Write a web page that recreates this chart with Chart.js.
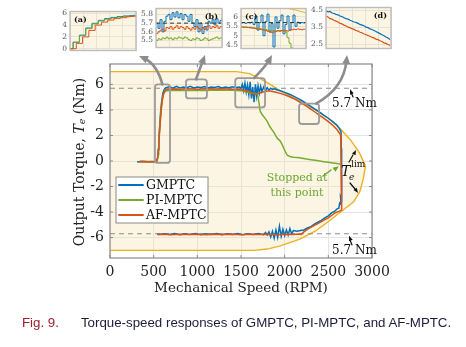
<!DOCTYPE html>
<html><head><meta charset="utf-8">
<script src="https://cdn.jsdelivr.net/npm/chart.js@4.4.0/dist/chart.umd.min.js"></script>
<style>
html,body{margin:0;padding:0;background:#fff;}
#wrap{position:relative;width:466px;height:347px;overflow:hidden;background:#fff;}
#main{position:absolute;left:0;top:0;}
.inset{position:absolute;}
#cap{position:absolute;left:22px;top:315px;font-family:"Liberation Sans",Arial,sans-serif;font-size:13.3px;color:#1c1c3c;white-space:nowrap;}
#cap .fig{color:#a0202a;margin-right:22px;}
</style></head>
<body><div id="wrap">
<canvas id="main" width="466" height="347"></canvas>
<canvas id="ia" class="inset"></canvas>
<canvas id="ib" class="inset"></canvas>
<canvas id="ic" class="inset"></canvas>
<canvas id="id" class="inset"></canvas>
<div id="cap"><span class="fig">Fig. 9.</span>Torque-speed responses of GMPTC, PI-MPTC, and AF-MPTC.</div>
</div>
<script>
// ---------- data (main chart: [speed RPM, torque Nm]) ----------
const speedTicks = [0, 500, 1000, 1500, 2000, 2500, 3000];
const torqueTicks = [-6, -4, -2, 0, 2, 4, 6];
const seriesNames = ['GMPTC', 'PI-MPTC', 'AF-MPTC'];
const ratedTorque = 5.7;

const limitTop = [[0,7],[1450,7],[1600,6.85],[1720,6.45],[1850,5.95],[1950,5.5],[2100,4.95],[2330,4.1],[2500,3.35],[2640,2.5],[2760,1.6],[2860,0.6],[2925,-0.4]];
const limitBottom = [[0,-7],[1650,-7],[1800,-6.9],[1950,-6.65],[2100,-6.3],[2180,-6.1],[2350,-5.5],[2490,-4.8],[2640,-4.0],[2790,-3.2],[2860,-2.4],[2900,-1.4],[2925,-0.4]];

const gmptc = [[310,-0.08],[360,-0.02],[420,-0.06],[480,-0.03],[530,-0.05],[545,0.2],[552,0.9],[560,1.8],[570,2.9],[580,3.9],[592,4.7],[605,5.3],[620,5.6],[640,5.75],
[680,5.82],[720,5.7],[760,5.85],[800,5.72],[840,5.8],[880,5.74],[920,5.86],[960,5.72],[1000,5.8],[1040,5.75],[1080,5.84],[1120,5.73],[1160,5.8],[1200,5.76],[1240,5.83],[1280,5.72],[1320,5.79],[1360,5.74],[1400,5.82],[1440,5.75],[1480,5.8],
[1500,5.7],[1515,6.0],[1530,5.5],[1545,6.1],[1560,5.4],[1575,5.95],[1590,5.2],[1605,6.2],[1620,4.9],[1635,5.8],[1650,4.6],[1665,6.0],[1680,5.1],[1695,5.9],[1710,5.3],[1725,5.85],[1740,5.45],[1760,5.8],[1780,5.5],[1800,5.75],[1820,5.55],[1840,5.7],[1860,5.6],[1880,5.65],[1900,5.6],
[1950,5.5],[2000,5.38],[2050,5.25],[2100,5.08],[2150,4.9],[2200,4.72],[2250,4.5],[2300,4.28],[2350,4.05],[2400,3.82],[2450,3.58],[2500,3.35],[2550,3.08],[2600,2.8],[2630,2.5],[2645,2.3],
[2648,1.0],[2650,-1.0],[2652,-2.5],[2655,-3.0],[2640,-2.8],[2645,-3.4],[2630,-3.3],[2620,-3.7],
[2600,-3.75],[2570,-3.95],[2540,-4.05],[2500,-4.3],[2460,-4.45],[2420,-4.65],[2380,-4.8],[2340,-4.95],[2300,-5.15],[2260,-5.25],[2220,-5.4],[2180,-5.45],[2140,-5.5],[2100,-5.45],[2080,-5.7],[2060,-5.3],[2040,-5.8],[2020,-5.4],[2000,-5.85],[1980,-5.35],[1960,-5.9],[1940,-5.1],[1920,-6.0],[1900,-5.4],[1880,-6.05],[1860,-5.5],[1840,-5.95],[1820,-5.55],[1800,-5.8],[1780,-5.6],[1760,-5.78],
[1700,-5.68],[1640,-5.76],[1580,-5.7],[1520,-5.78],[1460,-5.68],[1400,-5.75],[1340,-5.7],[1280,-5.77],[1220,-5.69],[1160,-5.76],[1100,-5.7],[1040,-5.78],[980,-5.69],[920,-5.75],[860,-5.7],[800,-5.77],[740,-5.68],[680,-5.75],[620,-5.7],[560,-5.76],[540,-5.72]];

const pimptc = [[330,-0.05],[420,-0.03],[500,-0.06],[540,-0.04],[550,0.5],[558,1.4],[567,2.4],[577,3.4],[588,4.3],[600,4.9],[615,5.3],[635,5.48],[680,5.53],[800,5.55],[900,5.52],[1000,5.55],[1100,5.53],[1200,5.56],[1300,5.54],[1400,5.55],[1500,5.5],[1560,5.42],[1600,5.35],[1630,5.28],[1660,5.3],[1690,5.2],[1705,4.6],[1720,3.9],[1745,3.6],[1770,3.4],[1800,3.1],[1830,2.7],[1860,2.4],[1880,2.2],[1900,1.95],[1920,1.75],[1945,1.6],[1970,1.3],[1990,1.0],[2010,0.7],[2030,0.45],[2060,0.35],[2100,0.3],[2150,0.28],[2200,0.22],[2250,0.15],[2300,0.1],[2350,0.05],[2400,0.0],[2450,-0.05],[2500,-0.1],[2550,-0.15],[2600,-0.2],[2640,-0.25]];

const afmptc = [[330,-0.06],[400,-0.03],[470,-0.07],[530,-0.04],[548,0.3],[556,1.0],[565,2.0],[575,3.0],[587,4.0],[600,4.8],[615,5.3],[635,5.55],[660,5.63],[720,5.65],[800,5.62],[900,5.66],[1000,5.63],[1100,5.66],[1200,5.64],[1300,5.66],[1400,5.63],[1500,5.6],[1550,5.52],[1600,5.42],[1640,5.3],[1670,5.22],[1700,5.28],[1740,5.38],[1780,5.45],[1820,5.5],[1860,5.45],[1900,5.38],[1950,5.3],[2000,5.18],[2050,5.05],[2100,4.9],[2150,4.72],[2200,4.5],[2250,4.3],[2300,4.06],[2350,3.82],[2400,3.58],[2450,3.34],[2500,3.08],[2550,2.8],[2600,2.45],[2640,2.05],[2645,1.0],[2648,-1.0],[2651,-3.0],[2653,-3.85],[2620,-3.95],[2580,-4.05],[2540,-4.25],[2500,-4.45],[2460,-4.6],[2420,-4.75],[2380,-4.9],[2340,-5.05],[2300,-5.2],[2260,-5.35],[2220,-5.55],[2190,-5.75],[2160,-5.72],[2100,-5.76],[2000,-5.73],[1900,-5.77],[1800,-5.74],[1700,-5.76],[1600,-5.73],[1500,-5.77],[1400,-5.74],[1300,-5.76],[1200,-5.73],[1100,-5.77],[1000,-5.74],[900,-5.76],[800,-5.73],[700,-5.77],[600,-5.74],[545,-5.75]];

// ---------- inset data (sample-by-sample torque, Nm) ----------
const insetA_ticks = [0, 2, 4, 6];
const insetA_gm = [0,1.1,1.1,2.3,2.3,3.5,3.5,4.3,4.3,4.8,4.8,5.1,5.1,5.3,5.3,5.45,5.45,5.55,5.55,5.6,5.65,5.7];
const insetA_pi = [0,1.1,1.1,2.2,2.2,3.4,3.4,4.2,4.2,4.7,4.7,5.0,5.0,5.2,5.2,5.35,5.35,5.45,5.45,5.5,5.55,5.6];
const insetA_af = [0,0,0.9,0.9,2.0,2.0,3.1,3.1,4.0,4.0,4.5,4.5,4.85,4.85,5.1,5.1,5.25,5.25,5.4,5.45,5.5,5.55];

const insetB_ticks = [5.5, 5.6, 5.7, 5.8];
const insetB_gm = [5.7,5.64,5.74,5.6,5.72,5.78,5.8,5.74,5.82,5.77,5.83,5.76,5.81,5.74,5.8,5.78,5.72,5.8,5.7,5.66,5.74,5.6,5.7,5.58,5.66,5.62,5.72,5.7,5.74,5.68,5.75,5.7,5.73,5.76];
const insetB_pi = [5.5,5.52,5.51,5.53,5.52,5.54,5.52,5.53,5.51,5.53,5.52,5.54,5.53,5.52,5.54,5.53,5.51,5.5,5.52,5.51,5.53,5.52,5.5,5.51,5.53,5.52,5.5,5.51,5.52,5.53,5.54,5.52,5.53,5.52];
const insetB_af = [5.58,5.6,5.62,5.63,5.61,5.65,5.64,5.66,5.63,5.65,5.67,5.64,5.66,5.65,5.63,5.66,5.64,5.62,5.65,5.63,5.66,5.64,5.62,5.65,5.63,5.66,5.67,5.64,5.66,5.65,5.67,5.64,5.66,5.65];

const insetC_ticks = [4.5, 5, 5.5, 6];
const insetC_gm = [5.68,5.7,5.66,5.7,5.68,5.72,5.6,6.05,5.3,5.7,6.1,5.0,5.75,6.15,5.2,5.65,4.4,6.0,5.4,5.8,6.1,5.1,5.6,6.05,5.3,5.7,6.1,5.5,5.72,5.66,5.7,5.68,5.7];
const insetC_pi = [5.47,5.46,5.45,5.44,5.45,5.43,5.42,5.4,5.41,5.38,5.36,5.34,5.33,5.3,5.28,5.26,5.27,5.25,5.27,5.28,5.26,5.24,5.2,4.9,4.6,4.35,4.1];
const insetC_af = [5.47,5.45,5.46,5.44,5.42,5.41,5.4,5.38,5.36,5.34,5.32,5.3,5.27,5.24,5.2,5.18,5.2,5.22,5.26,5.24,5.28,5.3,5.27,5.25,5.28,5.32,5.35,5.33,5.36,5.34,5.32,5.35,5.33];
const insetC_lim = [[44,6.48],[54,6.38],[65,6.22]];

const insetD_ticks = [2.5, 3, 3.5, 4, 4.5];
const insetD_gm = [4.45,4.4,4.42,4.33,4.3,4.25,4.22,4.15,4.12,4.05,4.0,3.97,3.9,3.86,3.8,3.78,3.72,3.66,3.62,3.58,3.5,3.47,3.4,3.36,3.3,3.24,3.18,3.12,3.06,3.0,2.92,2.86,2.78];
const insetD_af = [4.15,4.1,4.0,3.97,3.9,3.85,3.8,3.72,3.69,3.62,3.58,3.5,3.47,3.41,3.37,3.3,3.27,3.2,3.17,3.1,3.07,3.0,2.97,2.9,2.87,2.8,2.77,2.7,2.66,2.58,2.55,2.48,2.43];

// ---------- styling ----------
const C_BLUE = '#0072BD', C_ORANGE = '#D95319', C_GREEN = '#77AC30', C_YEL = '#EDB120';
const SERIF = '"DejaVu Serif", "Liberation Serif", serif';
const FILL = 'rgba(250,226,170,0.33)';
const pts = arr => arr.map(p => ({x: p[0], y: p[1]}));
const seq = (arr, step) => arr.map((v, i) => ({x: i * step, y: v}));
const plain = v => String(v);

function lineDs(label, data, color, width, order, extra) {
  return Object.assign({label, data, borderColor: color, borderWidth: width, pointRadius: 0, showLine: true, fill: false, tension: 0, order}, extra || {});
}

function arrowHead(ctx, tipX, tipY, dx, dy, len, wid, color) {
  const n = Math.hypot(dx, dy); dx /= n; dy /= n;
  const bx = tipX - dx * len, by = tipY - dy * len;
  ctx.beginPath();
  ctx.moveTo(tipX, tipY);
  ctx.lineTo(bx - dy * wid / 2, by + dx * wid / 2);
  ctx.lineTo(bx + dy * wid / 2, by - dx * wid / 2);
  ctx.closePath(); ctx.fillStyle = color; ctx.fill();
}
function curvedArrow(ctx, s, c, e, color, lw, hl, hw) {
  const dx = e[0] - c[0], dy = e[1] - c[1], n = Math.hypot(dx, dy);
  const ex = e[0] - dx / n * hl * 0.6, ey = e[1] - dy / n * hl * 0.6;
  ctx.beginPath(); ctx.moveTo(s[0], s[1]); ctx.quadraticCurveTo(c[0], c[1], ex, ey);
  ctx.strokeStyle = color; ctx.lineWidth = lw; ctx.lineCap = 'round'; ctx.stroke();
  arrowHead(ctx, e[0], e[1], dx, dy, hl, hw, color);
}
function roundRect(ctx, x, y, w, h, r) {
  ctx.beginPath();
  ctx.moveTo(x + r, y); ctx.lineTo(x + w - r, y); ctx.quadraticCurveTo(x + w, y, x + w, y + r);
  ctx.lineTo(x + w, y + h - r); ctx.quadraticCurveTo(x + w, y + h, x + w - r, y + h);
  ctx.lineTo(x + r, y + h); ctx.quadraticCurveTo(x, y + h, x, y + h - r);
  ctx.lineTo(x, y + r); ctx.quadraticCurveTo(x, y, x + r, y); ctx.closePath();
}

const mainAnnot = {
  id: 'mainAnnot',
  afterDatasetsDraw(chart) {
    const ctx = chart.ctx, a = chart.chartArea, sx = chart.scales.x, sy = chart.scales.y;
    const X = v => sx.getPixelForValue(v), Y = v => sy.getPixelForValue(v);
    ctx.save();
    // frame + inner ticks
    ctx.strokeStyle = '#8a8a8a'; ctx.lineWidth = 1.2;
    ctx.strokeRect(a.left, a.top, a.right - a.left, a.bottom - a.top);
    ctx.lineWidth = 1;
    speedTicks.forEach(v => { const x = X(v); ctx.beginPath(); ctx.moveTo(x, a.bottom); ctx.lineTo(x, a.bottom - 3); ctx.moveTo(x, a.top); ctx.lineTo(x, a.top + 3); ctx.stroke(); });
    torqueTicks.forEach(v => { const y = Y(v); ctx.beginPath(); ctx.moveTo(a.left, y); ctx.lineTo(a.left + 3, y); ctx.moveTo(a.right, y); ctx.lineTo(a.right - 3, y); ctx.stroke(); });

    // zoom boxes (in data coordinates)
    const boxes = [[515, 687, 6.0, -0.15], [870, 1110, 6.4, 4.9], [1434, 1775, 6.5, 4.2], [2165, 2394, 4.5, 2.9]];
    ctx.strokeStyle = '#9b9b9b'; ctx.lineWidth = 1.8;
    boxes.forEach(b => { roundRect(ctx, X(b[0]), Y(b[2]), X(b[1]) - X(b[0]), Y(b[3]) - Y(b[2]), 3); ctx.stroke(); });
    // connector arrows to insets
    const g = '#8d8d8d';
    curvedArrow(ctx, [X(600), Y(6.0)], [157, 64], [139, 56], g, 2.6, 9, 8);
    curvedArrow(ctx, [X(985), Y(6.4)], [201, 66], [205, 55], g, 2.6, 9, 8);
    curvedArrow(ctx, [X(1650), Y(6.5)], [266, 66], [272, 55], g, 2.6, 9, 8);
    curvedArrow(ctx, [X(2360), Y(4.5)], [344, 88], [347, 55], g, 2.6, 9, 8);

    // 5.7 Nm labels
    ctx.fillStyle = '#111'; ctx.font = '12px ' + SERIF; ctx.textAlign = 'left'; ctx.textBaseline = 'middle';
    ctx.fillText('5.7 Nm', 332, 104);
    ctx.fillText('5.7 Nm', 332, 251);
    ctx.strokeStyle = '#111'; ctx.lineWidth = 1.2;
    ctx.beginPath(); ctx.moveTo(353, 97); ctx.lineTo(351, 92); ctx.stroke();
    arrowHead(ctx, 350, Y(ratedTorque) + 1, -0.4, -1, 5, 4, '#111');
    ctx.beginPath(); ctx.moveTo(352, 245); ctx.lineTo(350, 240); ctx.stroke();
    arrowHead(ctx, 349, Y(-ratedTorque) + 2, -0.4, -1, 5, 4, '#111');

    // T_e^lim label
    ctx.font = 'italic 14px ' + SERIF; ctx.textBaseline = 'alphabetic';
    ctx.fillText('T', 341, 176);
    ctx.font = 'italic 9px ' + SERIF; ctx.fillText('e', 349, 180);
    ctx.font = '9px ' + SERIF; ctx.fillText('lim', 351, 167);
    ctx.beginPath(); ctx.moveTo(349, 162); ctx.lineTo(353, 155); ctx.stroke();
    arrowHead(ctx, 356, 150, 0.5, -1, 5, 4, '#111');
    ctx.beginPath(); ctx.moveTo(350, 183); ctx.lineTo(355, 189); ctx.stroke();
    arrowHead(ctx, 358, 193, 0.7, 1, 5, 4, '#111');

    // Stopped at this point
    ctx.fillStyle = '#6aa832'; ctx.font = '11px ' + SERIF; ctx.textAlign = 'center'; ctx.textBaseline = 'middle';
    ctx.fillText('Stopped at', 297, 178);
    ctx.fillText('this point', 297, 193);
    ctx.strokeStyle = '#6aa832'; ctx.lineWidth = 1.5;
    ctx.beginPath(); ctx.moveTo(323, 176); ctx.lineTo(331, 170); ctx.stroke();
    arrowHead(ctx, X(2620), Y(-0.25) + 2, 1, -0.75, 6, 5, '#6aa832');

    // legend
    const lx = a.left + 6, ly = a.top + 113, lw = 92, lh = 46;
    ctx.fillStyle = '#fff'; ctx.fillRect(lx, ly, lw, lh);
    ctx.strokeStyle = '#8a8a8a'; ctx.lineWidth = 1; ctx.strokeRect(lx, ly, lw, lh);
    ctx.font = '12.5px ' + SERIF; ctx.textAlign = 'left'; ctx.textBaseline = 'middle'; ctx.fillStyle = '#111';
    seriesNames.forEach((nm, i) => {
      const ds = chart.data.datasets.find(d => d.label === nm);
      const yy = ly + 8 + i * 15;
      ctx.strokeStyle = ds.borderColor; ctx.lineWidth = 1.8;
      ctx.beginPath(); ctx.moveTo(lx + 3, yy); ctx.lineTo(lx + 27, yy); ctx.stroke();
      ctx.fillText(nm, lx + 30, yy + 1);
    });

    // y title with italic T_e
    ctx.save();
    ctx.translate(80, (a.top + a.bottom) / 2 + 1); ctx.rotate(-Math.PI / 2);
    const segs = [['Output Torque, ', '14px ', 0], ['T', 'italic 14px ', 0], ['e', 'italic 9.5px ', 3], [' (Nm)', '14px ', 0]];
    let tw = 0; segs.forEach(s => { ctx.font = s[1] + SERIF; tw += ctx.measureText(s[0]).width; });
    let cx = -tw / 2; ctx.textAlign = 'left'; ctx.textBaseline = 'middle'; ctx.fillStyle = '#222';
    segs.forEach(s => { ctx.font = s[1] + SERIF; ctx.fillText(s[0], cx, s[2]); cx += ctx.measureText(s[0]).width; });
    ctx.restore();
    ctx.restore();
  }
};

new Chart(document.getElementById('main'), {
  type: 'scatter',
  data: {datasets: [
    lineDs('GMPTC', pts(gmptc), C_BLUE, 1.5, 3),
    lineDs('PI-MPTC', pts(pimptc), C_GREEN, 1.5, 2),
    lineDs('AF-MPTC', pts(afmptc), C_ORANGE, 1.5, 1),
    lineDs('rated+', pts([[0, ratedTorque], [3000, ratedTorque]]), '#8c8c8c', 1.2, 4, {borderDash: [5, 4]}),
    lineDs('rated-', pts([[0, -ratedTorque], [3000, -ratedTorque]]), '#8c8c8c', 1.2, 4, {borderDash: [5, 4]}),
    lineDs('limTop', pts(limitTop), C_YEL, 1.4, 5, {fill: 'origin', backgroundColor: FILL}),
    lineDs('limBot', pts(limitBottom), C_YEL, 1.4, 5, {fill: 'origin', backgroundColor: FILL})
  ]},
  options: {
    responsive: false, animation: false, devicePixelRatio: 1,
    layout: {padding: {left: 70, right: 94, top: 64, bottom: 50}},
    plugins: {legend: {display: false}, tooltip: {enabled: false}},
    scales: {
      x: {type: 'linear', min: 0, max: 3000,
        afterBuildTicks: s => { s.ticks = speedTicks.map(v => ({value: v})); },
        afterFit: s => { s.height = 39; },
        grid: {color: '#e4e4e4', drawTicks: false}, border: {display: false},
        ticks: {padding: 6, autoSkip: false, maxRotation: 0, color: '#222', font: {family: SERIF, size: 14}, callback: plain},
        title: {display: true, text: 'Mechanical Speed (RPM)', color: '#222', font: {family: SERIF, size: 13.5}, padding: {top: 1, bottom: 0}}},
      y: {type: 'linear', min: -7.6, max: 7.6,
        afterBuildTicks: s => { s.ticks = torqueTicks.map(v => ({value: v})); },
        afterFit: s => { s.width = 40; },
        grid: {color: '#e4e4e4', drawTicks: false}, border: {display: false},
        ticks: {padding: 6, color: '#222', font: {family: SERIF, size: 14}, callback: plain}}
    }
  },
  plugins: [mainAnnot]
});

// ---------- insets ----------
function makeInset(id, area, yMin, yMax, yTicks, xMax, datasets, tag, tagX) {
  const cv = document.getElementById(id);
  const L = 17, P = 4;
  const w = area.r - area.l + L + P, h = area.b - area.t + 2 * P;
  cv.width = w; cv.height = h;
  cv.style.left = (area.l - L) + 'px'; cv.style.top = (area.t - P) + 'px';
  const xt = [0, 0.2, 0.4, 0.6, 0.8, 1].map(f => f * xMax);
  new Chart(cv, {
    type: 'scatter',
    data: {datasets},
    options: {
      responsive: false, animation: false, devicePixelRatio: 1,
      layout: {padding: {left: 0, right: P, top: P, bottom: P}},
      plugins: {legend: {display: false}, tooltip: {enabled: false}},
      scales: {
        x: {type: 'linear', min: 0, max: xMax, afterBuildTicks: s => { s.ticks = xt.map(v => ({value: v})); },
          afterFit: s => { s.height = 0; }, grid: {color: '#e8e2d4', drawTicks: false}, border: {display: false}, ticks: {display: false}},
        y: {type: 'linear', min: yMin, max: yMax, afterBuildTicks: s => { s.ticks = yTicks.map(v => ({value: v})); },
          afterFit: s => { s.width = L; }, grid: {color: '#e8e2d4', drawTicks: false}, border: {display: false},
          ticks: {padding: 3, color: '#555', font: {family: SERIF, size: 7.5}, callback: plain}}
      }
    },
    plugins: [{
      id: 'insetDeco',
      beforeDraw(ch) { const a = ch.chartArea, c = ch.ctx; c.save(); c.fillStyle = '#fdf5e4'; c.fillRect(a.left, a.top, a.right - a.left, a.bottom - a.top); c.restore(); },
      afterDraw(ch) {
        const a = ch.chartArea, c = ch.ctx; c.save();
        c.strokeStyle = '#bdbdbd'; c.lineWidth = 1.4; c.strokeRect(a.left, a.top, a.right - a.left, a.bottom - a.top);
        c.fillStyle = '#111'; c.font = 'bold 8px ' + SERIF; c.textBaseline = 'middle';
        c.textAlign = tagX < 0.5 ? 'left' : 'right';
        c.fillText(tag, tagX < 0.5 ? a.left + 4 : a.right - 4, a.top + 8);
        c.restore();
      }
    }]
  });
}

makeInset('ia', {l: 70, r: 136, t: 8, b: 54}, -0.3, 6.3, insetA_ticks, 21, [
  lineDs('GMPTC', seq(insetA_gm, 1), C_BLUE, 1, 3, {stepped: 'before'}),
  lineDs('PI-MPTC', seq(insetA_pi, 1), C_GREEN, 1, 2, {stepped: 'before'}),
  lineDs('AF-MPTC', seq(insetA_af, 1), C_ORANGE, 1, 1, {stepped: 'before'})
], '(a)', 0);

makeInset('ib', {l: 156, r: 222, t: 5, b: 51}, 5.42, 5.868, insetB_ticks, 66, [
  lineDs('rated', pts([[0, ratedTorque], [66, ratedTorque]]), '#333', 1, 0, {borderDash: [4, 3]}),
  lineDs('GMPTC', seq(insetB_gm, 2), C_BLUE, 1, 3, {stepped: 'before'}),
  lineDs('PI-MPTC', seq(insetB_pi, 2), C_GREEN, 1, 2, {stepped: 'before'}),
  lineDs('AF-MPTC', seq(insetB_af, 2), C_ORANGE, 1, 1, {stepped: 'before'})
], '(b)', 1);

makeInset('ic', {l: 241, r: 306, t: 5, b: 52}, 4.32, 6.45, insetC_ticks, 65, [
  lineDs('rated', pts([[0, ratedTorque], [65, ratedTorque]]), '#333', 1, 0, {borderDash: [4, 3]}),
  lineDs('lim', pts(insetC_lim), C_YEL, 1, 4),
  lineDs('GMPTC', seq(insetC_gm, 2), C_BLUE, 1, 3, {stepped: 'before'}),
  lineDs('PI-MPTC', seq(insetC_pi, 2), C_GREEN, 1, 2, {stepped: 'before'}),
  lineDs('AF-MPTC', seq(insetC_af, 2), C_ORANGE, 1, 1, {stepped: 'before'})
], '(c)', 0);

makeInset('id', {l: 326, r: 391, t: 4, b: 52}, 2.25, 4.65, insetD_ticks, 65, [
  lineDs('GMPTC', seq(insetD_gm, 2), C_BLUE, 1.2, 3),
  lineDs('AF-MPTC', seq(insetD_af, 2), C_ORANGE, 1.2, 1)
], '(d)', 1);
</script>
</body></html>
